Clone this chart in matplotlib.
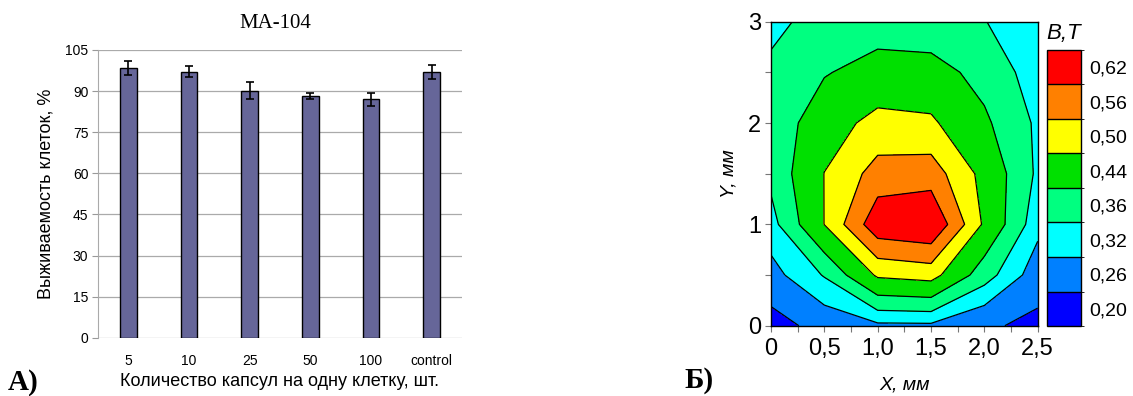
import numpy as np
import matplotlib
matplotlib.use("Agg")
import matplotlib.pyplot as plt
from matplotlib.colors import ListedColormap, BoundaryNorm
import matplotlib.colorbar as mcolorbar

plt.rcParams['font.family'] = ['Liberation Sans', 'DejaVu Sans']

# ---- Panel A data ----
categories = ['5', '10', '25', '50', '100', 'control']
survival = [98.3, 97.0, 90.2, 88.2, 87.0, 97.0]
survival_err = [2.6, 2.0, 3.2, 1.1, 2.3, 2.6]
yticks_a = [0, 15, 30, 45, 60, 75, 90, 105]

# ---- Panel B data (B, T on a 0.5 mm grid) ----
x_mm = [0.0, 0.5, 1.0, 1.5, 2.0, 2.5]
y_mm = [0.0, 0.5, 1.0, 1.5, 2.0, 2.5, 3.0]
# rows = y, columns = x
B_grid = [
    [0.205, 0.253, 0.279, 0.280, 0.240, 0.214],   # y=0
    [0.271, 0.344, 0.480, 0.495, 0.365, 0.260],   # y=0.5
    [0.319, 0.471, 0.632, 0.649, 0.460, 0.305],   # y=1.0
    [0.355, 0.471, 0.554, 0.561, 0.450, 0.330],   # y=1.5
    [0.355, 0.443, 0.488, 0.480, 0.411, 0.330],   # y=2.0
    [0.348, 0.395, 0.428, 0.425, 0.379, 0.312],   # y=2.5
    [0.330, 0.355, 0.367, 0.360, 0.342, 0.300],   # y=3.0
]
level_bounds = [0.0, 0.23, 0.29, 0.34, 0.40, 0.47, 0.53, 0.59, 1.0]
band_labels = ['0,20', '0,26', '0,32', '0,36', '0,44', '0,50', '0,56', '0,62']
band_colors = ['#0000FF', '#0080FF', '#00FFFF', '#00FF80', '#00E000',
               '#FFFF00', '#FF8000', '#FF0000']

W, H = 1133, 396
fig = plt.figure(figsize=(W / 100, H / 100), dpi=100)

# ================= Panel A =================
axA = fig.add_axes([98 / W, 1 - 337.7 / H, 364 / W, 287.7 / H])
xpos = np.arange(len(categories))
axA.bar(xpos, survival, width=0.27, color='#666699', edgecolor='black',
        linewidth=1.0, zorder=3)
axA.errorbar(xpos, survival, yerr=survival_err, fmt='none', ecolor='black',
             elinewidth=1.2, capsize=3, capthick=1.2, zorder=4)
axA.set_xlim(-0.5, len(categories) - 0.5)
axA.set_ylim(0, 105)
axA.set_yticks(yticks_a)
axA.set_yticklabels([str(v) for v in yticks_a], fontsize=10)
axA.set_xticks(xpos)
axA.set_xticklabels(categories, fontsize=10)
axA.tick_params(axis='x', length=0, pad=12)
axA.tick_params(axis='y', length=4, color='#999999', width=0.8, pad=3)
axA.yaxis.grid(True, color='#aaaaaa', linewidth=0.9, zorder=0)
axA.set_axisbelow(True)
for s in ['top', 'right', 'bottom']:
    axA.spines[s].set_visible(False)
axA.spines['left'].set_color('#aaaaaa')
axA.set_ylabel('Выживаемость клеток, %', fontsize=13, labelpad=8)
axA.set_xlabel('Количество капсул на одну клетку, шт.', fontsize=13, labelpad=3)
fig.text(275 / W, 1 - 23 / H, 'MA-104', ha='center', va='center',
         fontsize=15, family='Liberation Serif')
fig.text(8 / W, 1 - 382 / H, 'А)', ha='left', va='center', fontsize=21,
         fontweight='bold', family='Liberation Serif')

# ================= Panel B =================
axB = fig.add_axes([771 / W, 1 - 325.7 / H, 266.7 / W, 304 / H])
Xg, Yg = np.meshgrid(x_mm, y_mm)
Z = np.array(B_grid)
axB.contourf(Xg, Yg, Z, levels=level_bounds, colors=band_colors)
axB.contour(Xg, Yg, Z, levels=level_bounds[1:-1], colors='black', linewidths=0.9)
axB.set_xlim(0, 2.5)
axB.set_ylim(0, 3)
axB.set_xticks([0, 0.5, 1.0, 1.5, 2.0, 2.5])
axB.set_xticklabels(['0', '0,5', '1,0', '1,5', '2,0', '2,5'], fontsize=17)
axB.set_xticks(np.arange(0, 2.51, 0.25), minor=True)
axB.set_yticks([0, 1, 2, 3])
axB.set_yticklabels(['0', '1', '2', '3'], fontsize=17)
axB.set_yticks([0.5, 1.5, 2.5], minor=True)
axB.tick_params(which='both', direction='out', length=4, color='#777777',
                width=0.8)
axB.tick_params(axis='x', pad=5)
axB.tick_params(axis='y', pad=3)
for s in axB.spines.values():
    s.set_linewidth(1.0)
axB.set_xlabel('X, мм', fontsize=14, style='italic', labelpad=12)
axB.set_ylabel('Y, мм', fontsize=14, style='italic', labelpad=8)

# colorbar
axC = fig.add_axes([1047 / W, 1 - 326 / H, 34 / W, 276 / H])
cmap = ListedColormap(band_colors)
norm = BoundaryNorm(np.arange(len(band_colors) + 1), cmap.N)
cb = mcolorbar.ColorbarBase(axC, cmap=cmap, norm=norm,
                            ticks=np.arange(len(band_colors)) + 0.5,
                            drawedges=True, orientation='vertical')
cb.set_ticklabels(band_labels)
cb.ax.tick_params(length=0, labelsize=14, pad=6)
cb.outline.set_linewidth(1.0)
cb.dividers.set_linewidth(1.0)
fig.text(1046 / W, 1 - 34 / H, 'B,T', ha='left', va='center', fontsize=16,
         style='italic')
fig.text(684 / W, 1 - 380 / H, 'Б)', ha='left', va='center', fontsize=21,
         fontweight='bold', family='Liberation Serif')

fig.savefig('out.png', dpi=100)
